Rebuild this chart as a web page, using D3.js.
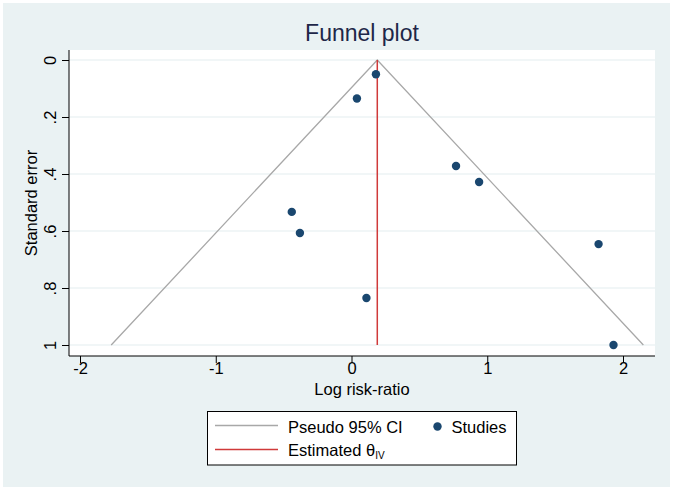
<!DOCTYPE html>
<html>
<head>
<meta charset="utf-8">
<script src="https://cdn.jsdelivr.net/npm/d3@7"></script>
<style>
  html, body { margin: 0; padding: 0; background: #ffffff; }
  svg { display: block; font-family: "Liberation Sans", Arial, sans-serif; }
</style>
</head>
<body>
<svg id="chart" width="675" height="492"></svg>
<script>
// ---- data ----
const studyLogRR = [0.18, 0.04, 0.77, 0.94, -0.44, -0.38, 0.11, 1.82, 1.93];
const studySE    = [0.05, 0.135, 0.372, 0.428, 0.533, 0.607, 0.835, 0.646, 1.0];
const thetaIV = 0.19;
const seMax = 1.0;
const xTicks = [-2, -1, 0, 1, 2];
const yTicks = [0, 0.2, 0.4, 0.6, 0.8, 1];
const yTickLabels = ["0", ".2", ".4", ".6", ".8", "1"];
const legendLabels = ["Pseudo 95% CI", "Studies", "Estimated θ", "IV"];

// ---- layout ----
const svg = d3.select("#chart");
const W = 675, H = 492;
const plot = { left: 69, right: 655, top: 50, bottom: 356 };
const x = d3.scaleLinear().domain([-2, 2]).range([80, 623]);
const y = d3.scaleLinear().domain([0, 1]).range([60, 345]);

const colNavy = "#1a476f";
const colRed = "#d03a3a";
const colGray = "#a8a8a8";

// background
svg.append("rect").attr("x", 3).attr("y", 3).attr("width", 667).attr("height", 484)
  .attr("fill", "#eaf2f3");
svg.append("rect").attr("x", plot.left).attr("y", plot.top)
  .attr("width", plot.right - plot.left).attr("height", plot.bottom - plot.top)
  .attr("fill", "#ffffff");

// gridlines
svg.append("g").selectAll("line").data(yTicks).join("line")
  .attr("x1", plot.left).attr("x2", plot.right)
  .attr("y1", d => y(d)).attr("y2", d => y(d))
  .attr("stroke", "#e3eef0").attr("stroke-width", 1.2);

// title
svg.append("text").attr("x", (plot.left + plot.right) / 2).attr("y", 41)
  .attr("text-anchor", "middle").attr("font-size", 23).attr("fill", "#1e2748")
  .text("Funnel plot");

// funnel (pseudo 95% CI)
const funnel = [[thetaIV - 1.96 * seMax, seMax], [thetaIV, 0], [thetaIV + 1.96 * seMax, seMax]];
svg.append("path")
  .attr("d", d3.line().x(d => x(d[0])).y(d => y(d[1]))(funnel))
  .attr("fill", "none").attr("stroke", colGray).attr("stroke-width", 1.3);

// estimated theta line
svg.append("line")
  .attr("x1", x(thetaIV)).attr("x2", x(thetaIV))
  .attr("y1", y(0)).attr("y2", y(seMax))
  .attr("stroke", colRed).attr("stroke-width", 1.5);

// points
svg.append("g").selectAll("circle").data(studyLogRR.map((v, i) => [v, studySE[i]])).join("circle")
  .attr("cx", d => x(d[0])).attr("cy", d => y(d[1])).attr("r", 4.2)
  .attr("fill", colNavy);

// y axis
const yAxis = d3.axisLeft(y).tickValues(yTicks).tickSize(7)
  .tickFormat((d, i) => yTickLabels[i]);
const gy = svg.append("g").attr("transform", `translate(${plot.left},0)`).call(yAxis);
gy.select(".domain").remove();
gy.append("line").attr("x1", 0).attr("x2", 0).attr("y1", plot.top).attr("y2", plot.bottom)
  .attr("stroke", "#000").attr("stroke-width", 1);
gy.selectAll(".tick line").attr("stroke", "#000");
gy.selectAll(".tick text")
  .attr("x", 0).attr("dy", 0)
  .attr("transform", "translate(-13,0) rotate(-90)")
  .attr("text-anchor", "middle")
  .attr("font-size", 16.5).attr("fill", "#000")
  .attr("font-family", "Liberation Sans, Arial, sans-serif");

// x axis
const xAxis = d3.axisBottom(x).tickValues(xTicks).tickSize(7).tickFormat(d3.format("d"));
const gx = svg.append("g").attr("transform", `translate(0,${plot.bottom})`).call(xAxis);
gx.select(".domain").remove();
gx.append("line").attr("x1", plot.left).attr("x2", plot.right).attr("y1", 0).attr("y2", 0)
  .attr("stroke", "#000").attr("stroke-width", 1);
gx.selectAll(".tick line").attr("stroke", "#000");
gx.selectAll(".tick text")
  .attr("y", 18).attr("dy", 0)
  .attr("font-size", 16.5).attr("fill", "#000")
  .attr("font-family", "Liberation Sans, Arial, sans-serif")
  .text(d => d < 0 ? "-" + Math.abs(d) : String(d));

// axis titles
svg.append("text").attr("x", (plot.left + plot.right) / 2).attr("y", 395)
  .attr("text-anchor", "middle").attr("font-size", 16.5).attr("fill", "#000")
  .text("Log risk-ratio");
svg.append("text")
  .attr("transform", `translate(37,${(plot.top + plot.bottom) / 2}) rotate(-90)`)
  .attr("text-anchor", "middle").attr("font-size", 16.5).attr("fill", "#000")
  .text("Standard error");

// legend
const lg = svg.append("g");
lg.append("rect").attr("x", 207.5).attr("y", 411.5).attr("width", 309).attr("height", 53.5)
  .attr("fill", "#ffffff").attr("stroke", "#000").attr("stroke-width", 1);
lg.append("line").attr("x1", 215).attr("x2", 278).attr("y1", 425.5).attr("y2", 425.5)
  .attr("stroke", colGray).attr("stroke-width", 1.3);
lg.append("text").attr("x", 288).attr("y", 432.5).attr("font-size", 16.5).attr("fill", "#000")
  .text(legendLabels[0]);
lg.append("circle").attr("cx", 437.5).attr("cy", 426.5).attr("r", 4.2).attr("fill", colNavy);
lg.append("text").attr("x", 451.5).attr("y", 432.5).attr("font-size", 16.5).attr("fill", "#000")
  .text(legendLabels[1]);
lg.append("line").attr("x1", 215).attr("x2", 278).attr("y1", 449.5).attr("y2", 449.5)
  .attr("stroke", colRed).attr("stroke-width", 1.5);
const est = lg.append("text").attr("x", 288).attr("y", 455.5).attr("font-size", 16.5).attr("fill", "#000");
est.append("tspan").text(legendLabels[2]);
est.append("tspan").attr("dy", 3).attr("font-size", 10).text(legendLabels[3]);
</script>
</body>
</html>
